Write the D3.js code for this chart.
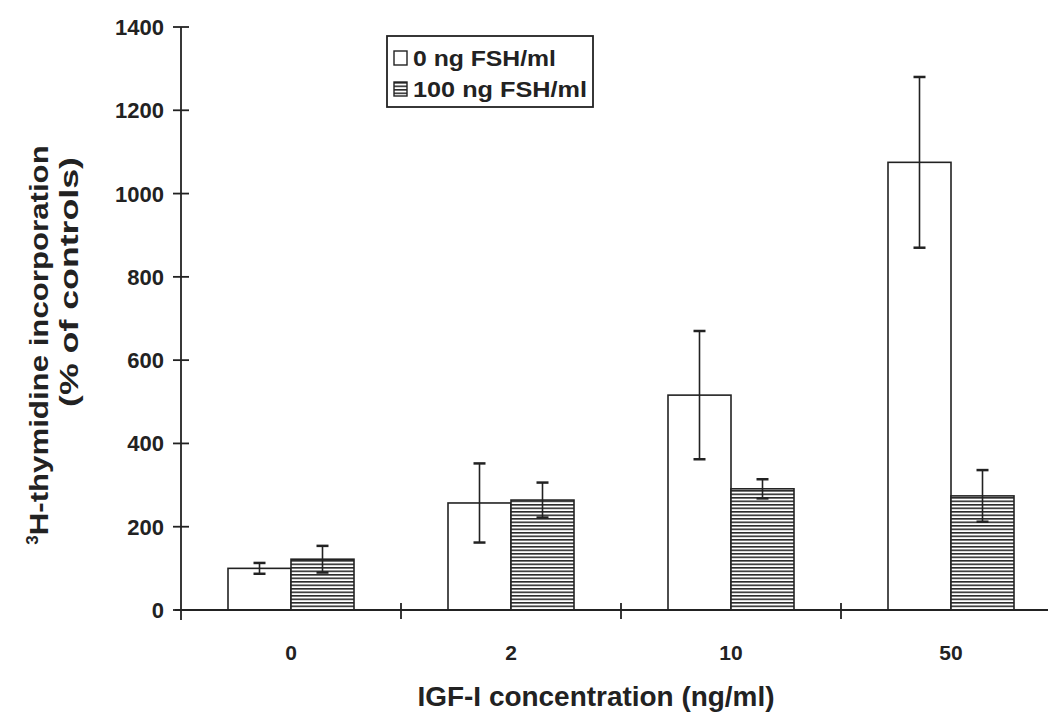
<!DOCTYPE html>
<html>
<head>
<meta charset="utf-8">
<script src="https://cdn.jsdelivr.net/npm/d3@7"></script>
<style>
body { margin: 0; background: #fff; }
text { font-family: "Liberation Sans", Arial, sans-serif; fill: #222; }
</style>
</head>
<body>
<svg id="chart" width="1048" height="713"></svg>
<script>
// data
var categories = ["0", "2", "10", "50"];
var seriesNames = ["0 ng FSH/ml", "100 ng FSH/ml"];
var noFsh = [100, 257, 516, 1075];
var noFshErr = [13, 95, 154, 205];
var withFsh = [122, 264, 291, 274];
var withFshErr = [32, 42, 23, 62];
var yTicks = [0, 200, 400, 600, 800, 1000, 1200, 1400];

var svg = d3.select("#chart");

// hatch pattern for the FSH bars
var defs = svg.append("defs");
var pat = defs.append("pattern")
    .attr("id", "hatch")
    .attr("patternUnits", "userSpaceOnUse")
    .attr("width", 8).attr("height", 3.5);
pat.append("rect").attr("width", 8).attr("height", 3.5).attr("fill", "#fff");
pat.append("rect").attr("y", 0).attr("width", 8).attr("height", 1.6).attr("fill", "#2a2a2a");

var mLeft = 181, mBottom = 610, mTop = 27;
var x = d3.scaleBand().domain(categories).range([mLeft, mLeft + 4 * 220]).paddingInner(0).paddingOuter(0);
var y = d3.scaleLinear().domain([0, 1400]).range([mBottom, mTop]);

var groupW = 126;
var x1 = d3.scaleBand().domain([0, 1]).range([0, groupW]);

var flat = [];
categories.forEach(function(c, i) {
    flat.push({cat: c, s: 0, v: noFsh[i], e: noFshErr[i]});
    flat.push({cat: c, s: 1, v: withFsh[i], e: withFshErr[i]});
});

var bx = function(d) { return x(d.cat) + (x.bandwidth() - groupW) / 2 + x1(d.s); };
var cx = function(d) { return bx(d) + x1.bandwidth() / 2; };

// bars
svg.selectAll("rect.bar").data(flat).enter().append("rect")
    .attr("class", "bar")
    .attr("x", bx)
    .attr("y", function(d) { return y(d.v); })
    .attr("width", x1.bandwidth())
    .attr("height", function(d) { return y(0) - y(d.v); })
    .attr("fill", function(d) { return d.s == 0 ? "#fff" : "url(#hatch)"; })
    .attr("stroke", "#222")
    .attr("stroke-width", 1.6);

// error bars
var eb = svg.selectAll("g.err").data(flat).enter().append("g").attr("class", "err")
    .attr("stroke", "#222").attr("stroke-width", 1.6);
eb.append("line")
    .attr("x1", cx).attr("x2", cx)
    .attr("y1", function(d) { return y(d.v + d.e); })
    .attr("y2", function(d) { return y(d.v - d.e); });
eb.append("line")
    .attr("x1", function(d) { return cx(d) - 6; })
    .attr("x2", function(d) { return cx(d) + 6; })
    .attr("y1", function(d) { return y(d.v + d.e); })
    .attr("y2", function(d) { return y(d.v + d.e); })
    .attr("stroke-width", 2.5);
eb.append("line")
    .attr("x1", function(d) { return cx(d) - 6; })
    .attr("x2", function(d) { return cx(d) + 6; })
    .attr("y1", function(d) { return y(d.v - d.e); })
    .attr("y2", function(d) { return y(d.v - d.e); })
    .attr("stroke-width", 2.5);

// y axis
var ya = svg.append("g").attr("stroke", "#222").attr("stroke-width", 1.8);
ya.append("line").attr("x1", mLeft).attr("x2", mLeft).attr("y1", y(1400)).attr("y2", mBottom + 10);
ya.selectAll("line.tick").data(yTicks).enter().append("line")
    .attr("x1", mLeft - 8).attr("x2", mLeft + 8)
    .attr("y1", function(d) { return y(d); }).attr("y2", function(d) { return y(d); });
svg.selectAll("text.ytick").data(yTicks).enter().append("text")
    .attr("x", 164).attr("y", function(d) { return y(d) + 8; })
    .attr("text-anchor", "end")
    .attr("font-size", 22).attr("font-weight", "bold")
    .text(function(d) { return d; });

// x axis
var xa = svg.append("g").attr("stroke", "#222").attr("stroke-width", 1.8);
xa.append("line").attr("x1", mLeft - 6).attr("x2", 1048).attr("y1", mBottom).attr("y2", mBottom);
xa.selectAll("line.tick").data(categories.slice(1)).enter().append("line")
    .attr("x1", function(d) { return x(d); }).attr("x2", function(d) { return x(d); })
    .attr("y1", mBottom - 7).attr("y2", mBottom + 9);
svg.selectAll("text.xtick").data(categories).enter().append("text")
    .attr("x", function(d) { return x(d) + x.bandwidth() / 2; })
    .attr("y", 660)
    .attr("text-anchor", "middle")
    .attr("font-size", 21).attr("font-weight", "bold")
    .text(function(d) { return d; });

// axis titles
svg.append("text")
    .attr("x", 596).attr("y", 706)
    .attr("text-anchor", "middle")
    .attr("font-size", 27).attr("font-weight", "bold")
    .attr("textLength", 357).attr("lengthAdjust", "spacingAndGlyphs")
    .text("IGF-I concentration (ng/ml)");

var t1 = svg.append("text")
    .attr("transform", "translate(48,345) rotate(-90)")
    .attr("text-anchor", "middle")
    .attr("font-size", 26).attr("font-weight", "bold");
t1.append("tspan").attr("font-size", 17).attr("dy", -10).text("3");
t1.append("tspan").attr("dy", 10)
    .attr("textLength", 390).attr("lengthAdjust", "spacingAndGlyphs")
    .text("H-thymidine incorporation");
svg.append("text")
    .attr("transform", "translate(78,282) rotate(-90)")
    .attr("text-anchor", "middle")
    .attr("font-size", 26).attr("font-weight", "bold")
    .attr("textLength", 250).attr("lengthAdjust", "spacingAndGlyphs")
    .text("(% of controls)");

// legend
var lg = svg.append("g");
lg.append("rect").attr("x", 387).attr("y", 36).attr("width", 206).attr("height", 71)
    .attr("fill", "#fff").attr("stroke", "#222").attr("stroke-width", 1.8);
var legW = [143, 174];
var li = lg.selectAll("g.item").data(seriesNames).enter().append("g")
    .attr("transform", function(d, i) { return "translate(394," + (51 + i * 31) + ")"; });
li.append("rect").attr("width", 13).attr("height", 14)
    .attr("fill", function(d, i) { return i == 0 ? "#fff" : "url(#hatch)"; })
    .attr("stroke", "#222").attr("stroke-width", 1.4);
li.append("text").attr("x", 19).attr("y", 15)
    .attr("font-size", 22).attr("font-weight", "bold")
    .attr("textLength", function(d, i) { return legW[i]; })
    .attr("lengthAdjust", "spacingAndGlyphs")
    .text(function(d) { return d; });
</script>
</body>
</html>
